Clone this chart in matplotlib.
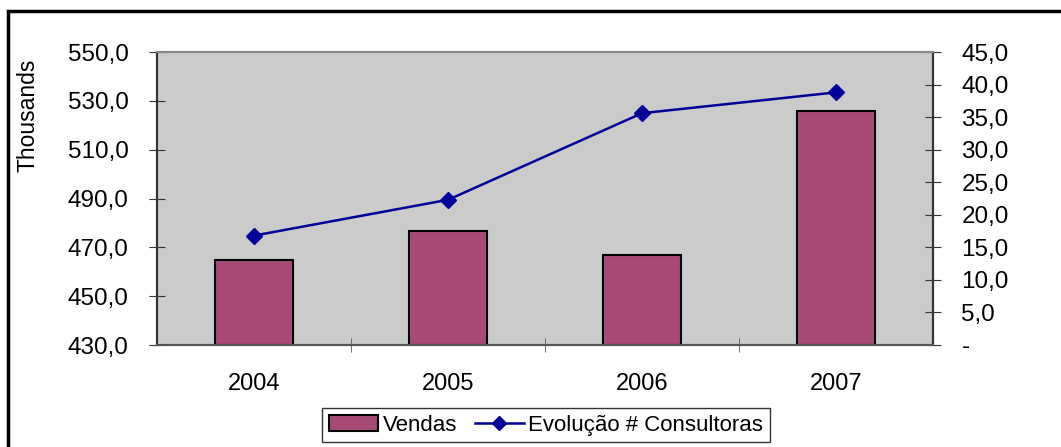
import numpy as np
import matplotlib.pyplot as plt
import matplotlib.patches as mpatches
from matplotlib.lines import Line2D
from matplotlib.ticker import FuncFormatter, MultipleLocator, FixedLocator

plt.rcParams['font.family'] = ['Liberation Sans', 'DejaVu Sans']

years = ['2004', '2005', '2006', '2007']
vendas = [464.8, 476.7, 467.0, 526.0]          # thousands, left axis
consultoras = [16.8, 22.3, 35.6, 38.8]         # right axis

bar_color = '#a84a78'
line_color = '#000099'
bg_color = '#cbcbcb'

fig = plt.figure(figsize=(10.61, 4.47), dpi=100)
ax = fig.add_axes([157/1061, 1-345/447, (933-157)/1061, (345-52)/447])
ax.set_facecolor(bg_color)

x = list(range(len(years)))
ax.bar(x, [v - 430 for v in vendas], bottom=430, width=0.4,
       color=bar_color, edgecolor='black', linewidth=1.5, zorder=2)

ax.set_xlim(-0.5, 3.5)
ax.set_ylim(430, 550)
ax.yaxis.set_major_locator(FixedLocator(np.arange(430, 551, 20)))
ax.yaxis.set_major_formatter(FuncFormatter(lambda v, p: f'{v:.1f}'.replace('.', ',')))
ax.set_xticks(x)
ax.set_xticklabels(years)
ax.xaxis.set_minor_locator(FixedLocator([0.5, 1.5, 2.5]))
ax.tick_params(axis='x', which='major', length=0, pad=20, labelsize=17)
ax.tick_params(axis='x', which='minor', direction='inout', length=10, color='#555555')
ax.tick_params(axis='y', direction='inout', length=11, pad=15, labelsize=17.5, color='#333333')
ax.set_ylabel('Thousands', fontsize=16.5)
ax.yaxis.set_label_coords(-0.152, 0.785)

ax2 = ax.twinx()
ax2.plot(x, consultoras, color=line_color, marker='D', markersize=8, linewidth=1.8, zorder=3)
ax2.set_ylim(0, 45)
ax2.yaxis.set_major_locator(MultipleLocator(5))
ax2.yaxis.set_major_formatter(FuncFormatter(lambda v, p: '-' if v == 0 else f'{v:.1f}'.replace('.', ',')))
ax2.tick_params(axis='y', direction='inout', length=11, pad=15, labelsize=17.5, color='#333333')

for a in (ax, ax2):
    a.spines['top'].set_color('#888888')
    a.spines['top'].set_linewidth(1.5)
    a.spines['left'].set_color('#333333')
    a.spines['right'].set_color('#333333')
    a.spines['bottom'].set_color('#555555')
    for s in ('left', 'right', 'bottom'):
        a.spines[s].set_linewidth(1.5)

# outer chart border
fig.patches.append(mpatches.Rectangle((8/1061, -0.1), 1.2, 1.1 - 11/447,
                                      transform=fig.transFigure, fill=False,
                                      edgecolor='black', linewidth=2.5))

handles = [mpatches.Patch(facecolor=bar_color, edgecolor='black', linewidth=1.5),
           Line2D([0], [0], color=line_color, marker='D', markersize=7, linewidth=1.8)]
leg = fig.legend(handles, ['Vendas', 'Evolução # Consultoras'], loc='upper center',
                 bbox_to_anchor=(546/1061, 1-408/447), ncol=2, fontsize=16,
                 frameon=True, fancybox=False, edgecolor='black', handlelength=2.2,
                 handletextpad=0.2, columnspacing=0.8, borderpad=0.3, borderaxespad=0)
leg.get_frame().set_linewidth(1.0)

fig.savefig('out.png', dpi=100)
